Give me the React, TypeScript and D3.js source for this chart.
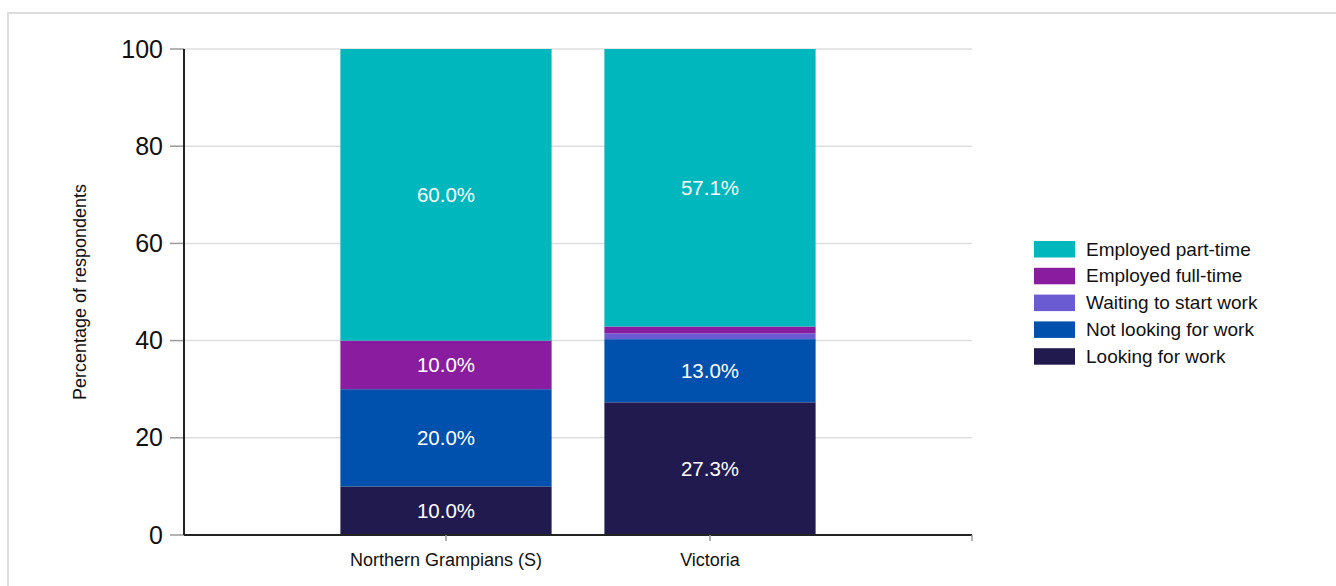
import React, { useEffect, useRef } from 'react';
import * as d3 from 'd3';

const categories = ['Northern Grampians (S)', 'Victoria'];
const seriesNames = [
  'Looking for work',
  'Not looking for work',
  'Waiting to start work',
  'Employed full-time',
  'Employed part-time',
];
const lookingForWork = [10.0, 27.3];
const notLookingForWork = [20.0, 13.0];
const waitingToStart = [0, 1.2];
const employedFullTime = [10.0, 1.4];
const employedPartTime = [60.0, 57.1];
const yTicks = [0, 20, 40, 60, 80, 100];
const colors = ['#211a4f', '#0051ad', '#6a5bd3', '#8a1d9f', '#00b7bd'];

const W = 1336;
const H = 586;
const FONT = '"Liberation Sans", Arial, sans-serif';

const App = () => {
  const svgRef = useRef<SVGSVGElement>(null);

  useEffect(() => {
    const svg = d3.select(svgRef.current);
    svg.selectAll('*').remove();

    // chart frame
    svg.append('rect')
      .attr('x', 8).attr('y', 13)
      .attr('width', W).attr('height', H)
      .attr('fill', 'white')
      .attr('stroke', '#dcdcdc').attr('stroke-width', 2);

    const rows = categories.map((c, i) => ({
      category: c,
      'Looking for work': lookingForWork[i],
      'Not looking for work': notLookingForWork[i],
      'Waiting to start work': waitingToStart[i],
      'Employed full-time': employedFullTime[i],
      'Employed part-time': employedPartTime[i],
    }));

    const stacked = d3.stack<any>().keys(seriesNames)(rows);

    const x = d3.scaleBand().domain(categories).range([314, 842])
      .paddingInner(0.2).paddingOuter(0.1);
    const y = d3.scaleLinear().domain([0, 100]).range([535, 49]);
    const axisLeft = 184;
    const axisRight = 972;

    // gridlines
    svg.append('g')
      .selectAll('line')
      .data(yTicks.filter((t) => t > 0))
      .join('line')
      .attr('x1', axisLeft).attr('x2', axisRight)
      .attr('y1', (d) => y(d)).attr('y2', (d) => y(d))
      .attr('stroke', '#dedede').attr('stroke-width', 1.5);

    // bars
    const layer = svg.append('g')
      .selectAll('g')
      .data(stacked)
      .join('g')
      .attr('fill', (_d, i) => colors[i]);

    layer.selectAll('rect')
      .data((d) => d)
      .join('rect')
      .attr('x', (d: any) => x(d.data.category)!)
      .attr('width', x.bandwidth())
      .attr('y', (d) => y(d[1]))
      .attr('height', (d) => y(d[0]) - y(d[1]));

    layer.selectAll('text')
      .data((d) => d.filter((s) => s[1] - s[0] >= 5))
      .join('text')
      .attr('x', (d: any) => x(d.data.category)! + x.bandwidth() / 2)
      .attr('y', (d) => (y(d[0]) + y(d[1])) / 2 + 7)
      .attr('text-anchor', 'middle')
      .attr('fill', 'white')
      .attr('font-family', FONT)
      .attr('font-size', 20.5)
      .text((d) => `${(d[1] - d[0]).toFixed(1)}%`);

    // y axis
    const yg = svg.append('g');
    yg.selectAll('line')
      .data(yTicks)
      .join('line')
      .attr('x1', 170).attr('x2', axisLeft)
      .attr('y1', (d) => y(d)).attr('y2', (d) => y(d))
      .attr('stroke', '#9a9a9a').attr('stroke-width', 1.5);
    yg.selectAll('text')
      .data(yTicks)
      .join('text')
      .attr('x', 163)
      .attr('y', (d) => y(d) + 8.5)
      .attr('text-anchor', 'end')
      .attr('font-family', FONT)
      .attr('font-size', 25)
      .attr('fill', '#111')
      .text((d) => d);
    yg.append('line')
      .attr('x1', axisLeft).attr('x2', axisLeft)
      .attr('y1', y(100)).attr('y2', y(0))
      .attr('stroke', '#222').attr('stroke-width', 2);

    svg.append('text')
      .attr('transform', `translate(86,${(y(0) + y(100)) / 2}) rotate(-90)`)
      .attr('text-anchor', 'middle')
      .attr('font-family', FONT)
      .attr('font-size', 18)
      .attr('fill', '#111')
      .text('Percentage of respondents');

    // x axis
    const xg = svg.append('g');
    xg.append('line')
      .attr('x1', axisLeft).attr('x2', axisRight)
      .attr('y1', y(0)).attr('y2', y(0))
      .attr('stroke', '#222').attr('stroke-width', 2);
    xg.selectAll('line.tick')
      .data(categories)
      .join('line')
      .attr('class', 'tick')
      .attr('x1', (d) => x(d)! + x.bandwidth() / 2)
      .attr('x2', (d) => x(d)! + x.bandwidth() / 2)
      .attr('y1', y(0)).attr('y2', y(0) + 6)
      .attr('stroke', '#9a9a9a').attr('stroke-width', 1.5);
    xg.append('line')
      .attr('x1', axisRight).attr('x2', axisRight)
      .attr('y1', y(0)).attr('y2', y(0) + 6)
      .attr('stroke', '#9a9a9a').attr('stroke-width', 1.5);
    xg.selectAll('text')
      .data(categories)
      .join('text')
      .attr('x', (d) => x(d)! + x.bandwidth() / 2)
      .attr('y', 566)
      .attr('text-anchor', 'middle')
      .attr('font-family', FONT)
      .attr('font-size', 18)
      .attr('fill', '#111')
      .text((d) => d);

    // legend (top to bottom: reverse of stack order)
    const legendItems = seriesNames.map((n, i) => ({ name: n, color: colors[i] })).reverse();
    const lg = svg.append('g').attr('transform', 'translate(1034,241)');
    const item = lg.selectAll('g')
      .data(legendItems)
      .join('g')
      .attr('transform', (_d, i) => `translate(0,${i * 26.8})`);
    item.append('rect')
      .attr('width', 41).attr('height', 16.5)
      .attr('fill', (d) => d.color);
    item.append('text')
      .attr('x', 52).attr('y', 14.5)
      .attr('font-family', FONT)
      .attr('font-size', 19)
      .attr('fill', '#111')
      .text((d) => d.name);
  }, []);

  return (
    <svg
      ref={svgRef}
      width={W}
      height={H}
      style={{ position: 'absolute', left: 0, top: 0, background: 'white' }}
    />
  );
};

export default App;
